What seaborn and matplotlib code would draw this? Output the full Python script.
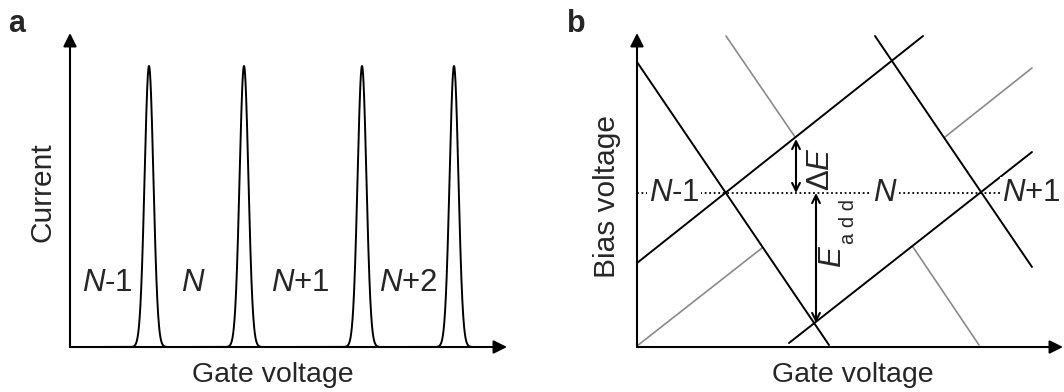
import numpy as np
import pandas as pd
import matplotlib
matplotlib.use("Agg")
import matplotlib.pyplot as plt
import seaborn as sns

# ---------------- data (schematic units) ----------------
# panel a: Coulomb oscillation peaks
peak_centers = [79, 174, 292, 384]
peak_height = 281
peak_sigma = 4.4
charge_labels_a = ["$N$-1", "$N$", "$N$+1", "$N$+2"]
charge_label_x_a = [37, 123, 230, 338]
charge_label_y_a = 64

# panel b: Coulomb diamond edges (gate start, bias start, gate end, bias end)
black_g0 = [0, 0, 152, 238]
black_b0 = [285, 84, 4, 311]
black_g1 = [192, 286, 395, 395]
black_b1 = [2, 311, 195, 80]
gray_g0 = [0, 308, 89, 276]
gray_b0 = [1, 210, 311, 100]
gray_g1 = [125, 395, 158, 342]
gray_b1 = [99, 279, 210, 2]
zero_bias = 154
charge_labels_b = ["$N$-1", "$N$", "$N$+1"]
charge_label_x_b = [37, 248, 394]
dE_gate, dE_lo, dE_hi = 159, 154, 208
Eadd_gate, Eadd_lo, Eadd_hi = 179, 24, 154

# ---------------- style ----------------
sns.set_theme(style="white")
plt.rcParams["font.family"] = ["Liberation Sans", "DejaVu Sans"]
plt.rcParams["mathtext.fontset"] = "custom"
plt.rcParams["mathtext.rm"] = "Liberation Sans"
plt.rcParams["mathtext.it"] = "Liberation Sans:italic"
plt.rcParams["mathtext.bf"] = "Liberation Sans:bold"

W, H = 1064, 392
fig = plt.figure(figsize=(W / 100, H / 100), dpi=100)

def px_axes(l, b, r, t):
    return fig.add_axes([l / W, (H - b) / H, (r - l) / W, (b - t) / H])

FS_N = 22.5
FS_AX = 21.5
FS_X = 20.5
LW = 1.4

# ---------------- panel a ----------------
axa = px_axes(70, 347, 507, 33)
axa.set_xlim(0, 437)
axa.set_ylim(0, 314)
gate = np.linspace(20, 430, 4000)
current = np.zeros_like(gate)
for c in peak_centers:
    current += peak_height * np.exp(-0.5 * ((gate - c) / peak_sigma) ** 2)
dfa = pd.DataFrame({"gate": gate, "current": current})
sns.lineplot(data=dfa, x="gate", y="current", ax=axa, color="black", lw=LW)
for lab, x in zip(charge_labels_a, charge_label_x_a):
    axa.text(x, charge_label_y_a, lab, fontsize=FS_N, ha="center", va="center")

# ---------------- panel b ----------------
axb = px_axes(637, 347, 1063, 33)
axb.set_xlim(0, 426)
axb.set_ylim(0, 314)
for g0, b0, g1, b1 in zip(gray_g0, gray_b0, gray_g1, gray_b1):
    d = pd.DataFrame({"gate": [g0, g1], "bias": [b0, b1]})
    sns.lineplot(data=d, x="gate", y="bias", ax=axb, color="#8a8a8a", lw=1.2)
for g0, b0, g1, b1 in zip(black_g0, black_b0, black_g1, black_b1):
    d = pd.DataFrame({"gate": [g0, g1], "bias": [b0, b1]})
    sns.lineplot(data=d, x="gate", y="bias", ax=axb, color="black", lw=LW)
axb.plot([0, 368], [zero_bias, zero_bias], color="black", lw=1.3,
         ls=(0, (1, 1.5)))
for lab, x in zip(charge_labels_b, charge_label_x_b):
    axb.text(x, zero_bias, lab, fontsize=FS_N, ha="center", va="center",
             bbox=dict(facecolor="white", edgecolor="none", pad=1.0), zorder=5)

arrow_kw = dict(arrowstyle="<->", color="black", lw=1.5, mutation_scale=14,
                shrinkA=0, shrinkB=0)
axb.annotate("", xy=(dE_gate, dE_hi), xytext=(dE_gate, dE_lo), arrowprops=arrow_kw)
axb.annotate("", xy=(Eadd_gate, Eadd_hi), xytext=(Eadd_gate, Eadd_lo), arrowprops=arrow_kw)
axb.text(dE_gate + 25, 178, r"$\mathrm{\Delta}E$", fontsize=FS_N, rotation=90,
         ha="center", va="center")
axb.text(Eadd_gate + 16, 90, "E", fontsize=FS_N, style="italic", rotation=90,
         ha="center", va="center")
axb.text(Eadd_gate + 32, 126, "a d d", fontsize=14.5, rotation=90,
         ha="center", va="center")

# ---------------- axes arrows & cosmetics ----------------
for ax, xr in ((axa, 437), (axb, 426)):
    ax.set_xticks([]); ax.set_yticks([])
    ax.set_xlabel(""); ax.set_ylabel("")
    for s in ax.spines.values():
        s.set_visible(False)
    ax.patch.set_alpha(0)
    ak = dict(arrowstyle="-|>", color="black", lw=1.5, mutation_scale=20,
              shrinkA=0, shrinkB=0)
    ax.annotate("", xy=(xr, 0), xytext=(0, 0), arrowprops=ak, annotation_clip=False)
    ax.annotate("", xy=(0, 314), xytext=(0, 0), arrowprops=ak, annotation_clip=False)

fig.text(8 / W, (H - 32) / H, "a", fontsize=22, fontweight="bold", va="baseline")
fig.text(567 / W, (H - 32) / H, "b", fontsize=22, fontweight="bold", va="baseline")
fig.text(43 / W, (H - 192) / H, "Current", fontsize=FS_AX, rotation=90,
         ha="center", va="center")
fig.text(607 / W, (H - 197) / H, "Bias voltage", fontsize=FS_AX, rotation=90,
         ha="center", va="center")
fig.text(273 / W, (H - 382) / H, "Gate voltage", fontsize=FS_X, ha="center", va="baseline")
fig.text(853 / W, (H - 382) / H, "Gate voltage", fontsize=FS_X, ha="center", va="baseline")

fig.savefig("out.png", dpi=100, facecolor="white")
